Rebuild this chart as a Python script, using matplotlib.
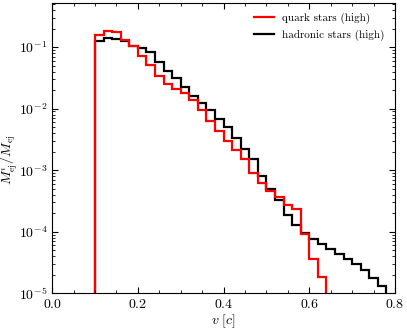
import numpy as np
import matplotlib
matplotlib.use("Agg")
import matplotlib.pyplot as plt
from matplotlib.ticker import MultipleLocator, LogLocator, NullFormatter

plt.rcParams['mathtext.fontset'] = 'cm'
plt.rcParams['font.family'] = 'serif'
plt.rcParams['font.serif'] = ['cmr10']
plt.rcParams['axes.formatter.use_mathtext'] = True

# histogram bin edges in v [c]
quark_edges = np.arange(0.10, 0.661, 0.02)
hadron_edges = np.arange(0.10, 0.781, 0.02)

# mass fractions per bin
quark_vals = [0.155, 0.182, 0.175, 0.1285, 0.1026, 0.0719, 0.0505, 0.0341,
              0.0248, 0.0210, 0.0177, 0.0138, 0.0094, 0.00635, 0.00434,
              0.00301, 0.00215, 0.00149, 0.00090, 0.00062, 0.000456,
              0.000365, 0.000275, 0.000233, 9.2e-5, 3.56e-5, 1.82e-5, 0.0]
hadron_vals = [0.1236, 0.140, 0.133, 0.1236, 0.1038, 0.0963, 0.083, 0.0571,
               0.0411, 0.0310, 0.0222, 0.0160, 0.0122, 0.0094, 0.0068,
               0.0051, 0.0033, 0.0022, 0.00149, 0.00079, 0.00050, 0.000326,
               0.000188, 0.000128, 9.4e-5, 7.7e-5, 6.2e-5, 5.2e-5, 4.3e-5,
               3.6e-5, 3.0e-5, 2.4e-5, 1.8e-5, 1.3e-5]

fig = plt.figure(figsize=(4.07, 3.31), dpi=100)
ax = fig.add_axes([0.128, 0.114, 0.8425, 0.877])

ax.stairs(hadron_vals, hadron_edges, baseline=1e-12, color='k', lw=1.6,
          label='hadronic stars (high)')
ax.stairs(quark_vals, quark_edges, baseline=1e-12, color='r', lw=1.6,
          label='quark stars (high)')

ax.set_yscale('log')
ax.set_xlim(0.0, 0.8)
ax.set_ylim(1e-5, 0.52)

ax.xaxis.set_major_locator(MultipleLocator(0.2))
ax.xaxis.set_minor_locator(MultipleLocator(0.05))
ax.yaxis.set_minor_locator(LogLocator(base=10, subs=np.arange(2, 10), numticks=20))
ax.yaxis.set_minor_formatter(NullFormatter())
ax.tick_params(which='both', direction='in', top=True, right=True, labelsize=10)
ax.tick_params(which='major', length=4)
ax.tick_params(which='minor', length=2)

ax.set_xlabel(r'$v\ [c]$', fontsize=10, labelpad=1)
ax.set_ylabel(r'$M_{\rm ej}^{i}/M_{\rm ej}$', fontsize=10)
ax.yaxis.set_label_coords(-0.093, 0.46)

h, l = ax.get_legend_handles_labels()
ax.legend(h[::-1], l[::-1], loc='upper right', frameon=False, fontsize=8,
          handlelength=1.8)

fig.savefig('out.png', dpi=100)
